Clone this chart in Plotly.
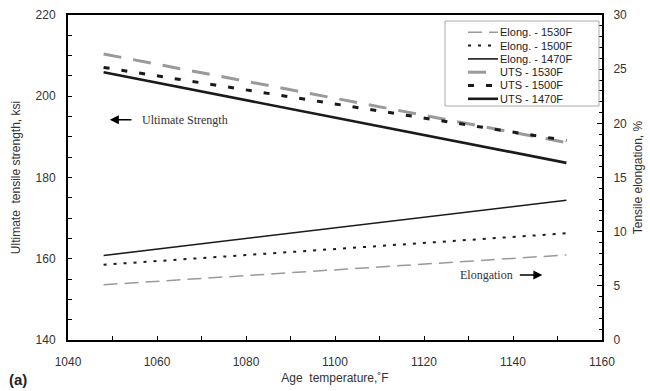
import plotly.graph_objects as go

age = [1048, 1152]
elong_1530 = [5.1, 7.85]
elong_1500 = [6.95, 9.85]
elong_1470 = [7.8, 12.9]
uts_1530 = [210.4, 188.6]
uts_1500 = [207.1, 189.1]
uts_1470 = [205.9, 183.6]

GRAY = "#9a9a9a"
DARK = "#1a1a1a"

series = [
    ("Elong. - 1530F", elong_1530, "y2", GRAY, 1.5, "14px,7px"),
    ("Elong. - 1500F", elong_1500, "y2", DARK, 2, "3px,7px"),
    ("Elong. - 1470F", elong_1470, "y2", DARK, 1.6, "solid"),
    ("UTS - 1530F", uts_1530, "y", GRAY, 3, "18px,12px"),
    ("UTS - 1500F", uts_1500, "y", DARK, 3, "6px,12px"),
    ("UTS - 1470F", uts_1470, "y", DARK, 2.6, "solid"),
]

fig = go.Figure()
for name, vals, ax, col, w, dash in series:
    fig.add_trace(go.Scatter(x=age, y=vals, yaxis=ax, mode="lines", name=name,
                             line=dict(color=col, width=w, dash=dash)))

axfont = dict(family="Arial, Liberation Sans, sans-serif", size=12, color="#333")

W, H = 650, 391
ML, MR, MT, MB = 68, 48, 15, 51
PW, PH = W - ML - MR, H - MT - MB


def px(xp):
    return (xp - ML) / PW


def py(yp):
    return 1 - (yp - MT) / PH


fig.update_layout(
    width=W, height=H,
    margin=dict(l=ML, r=MR, t=MT, b=MB),
    paper_bgcolor="white", plot_bgcolor="white",
    font=axfont, showlegend=False,
    xaxis=dict(range=[1040, 1160], dtick=20, tick0=1040, ticks="inside", ticklen=4,
               tickcolor="black", showline=True, linecolor="black", linewidth=2,
               mirror=True, showgrid=False, zeroline=False, ticklabelstandoff=10,
               automargin=False,
               minor=dict(dtick=10, ticks="inside", ticklen=4, tickcolor="black"),
               title=dict(text="Age  temperature,˚F", standoff=5, font=axfont)),
    yaxis=dict(range=[140, 220], dtick=20, ticks="inside", ticklen=4, tickcolor="black",
               showline=True, linecolor="black", linewidth=2, showgrid=False,
               zeroline=False, ticklabelstandoff=8, automargin=False,
               minor=dict(dtick=5, ticks="inside", ticklen=4, tickcolor="black"),
               title=dict(text="Ultimate  tensile strength, ksi", standoff=12, font=axfont)),
    yaxis2=dict(range=[0, 30], dtick=5, overlaying="y", side="right", ticks="inside",
                ticklen=5, tickcolor="black", showline=True, linecolor="black",
                linewidth=2, showgrid=False, zeroline=False, ticklabelstandoff=7,
                automargin=False,
                minor=dict(dtick=1, ticks="inside", ticklen=3, tickcolor="black"),
                title=dict(text="Tensile elongation, %", standoff=8, font=axfont)),
)

# Legend box (drawn manually to match the compact original)
fig.add_shape(type="rect", xref="paper", yref="paper",
              x0=px(445), x1=px(599), y0=py(106), y1=py(21),
              line=dict(color="#aaaaaa", width=1), fillcolor="white", layer="above")
legfont = dict(family="Arial, Liberation Sans, sans-serif", size=11, color="#222")
for i, (name, vals, ax, col, w, dash) in enumerate(series):
    yy = py(32.3 + 13.3 * i)
    fig.add_shape(type="line", xref="paper", yref="paper", x0=px(468), x1=px(498),
                  y0=yy, y1=yy, layer="above",
                  line=dict(color=col, width=w, dash=dash))
    fig.add_annotation(x=px(498), y=yy, xref="paper", yref="paper", text=name,
                       showarrow=False, xanchor="left", yanchor="middle", font=legfont)

serif = dict(family="Liberation Serif, Times New Roman, serif", size=12, color="#333")
# Ultimate strength arrow + label
fig.add_annotation(x=1049.4, y=194.2, ax=1054.6, ay=194.2, xref="x", yref="y",
                   axref="x", ayref="y", text="", showarrow=True, arrowhead=2,
                   arrowsize=1.2, arrowwidth=1.5, arrowcolor="black")
fig.add_annotation(x=1056.2, y=194.2, xref="x", yref="y", text="Ultimate Strength",
                   showarrow=False, xanchor="left", font=serif)
# Elongation label + arrow
fig.add_annotation(x=1140.4, y=156.0, xref="x", yref="y", text="Elongation",
                   showarrow=False, xanchor="right", font=serif)
fig.add_annotation(x=1146.6, y=156.0, ax=1141.2, ay=156.0, xref="x", yref="y",
                   axref="x", ayref="y", text="", showarrow=True, arrowhead=2,
                   arrowsize=1.2, arrowwidth=1.5, arrowcolor="black")
# panel label
fig.add_annotation(x=px(7), y=py(379), xref="paper", yref="paper",
                   xanchor="left", yanchor="middle", showarrow=False, text="<b>(a)</b>",
                   font=dict(family="Arial, Liberation Sans, sans-serif", size=15, color="#222"))

fig.write_html("out.html", config={"displayModeBar": False},
               post_script="document.body.style.margin='0px';document.body.style.padding='0px';")
